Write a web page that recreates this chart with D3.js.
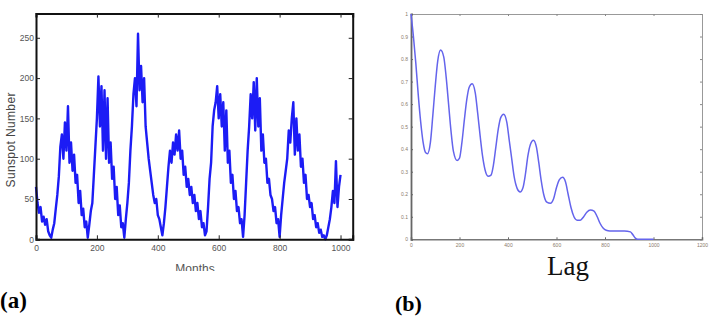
<!DOCTYPE html>
<html>
<head>
<meta charset="utf-8">
<script src="https://cdn.jsdelivr.net/npm/d3@7"></script>
<style>
  body { margin: 0; background: #fff; }
  svg { display: block; }
</style>
</head>
<body>
<div id="chart"></div>
<script>
// (a) monthly sunspot numbers, one value every 5 months (0..1000)
const sunspot = [
  65,45,33,40,22,28,18,25,10,5,2,12,20,38,55,78,115,130,100,145,110,165,95,120,85,105,70,80,45,60,30,38,15,22,2,
  18,35,45,80,115,150,202,140,190,110,185,100,175,95,120,75,90,50,65,30,42,15,20,2,
  25,45,70,110,140,180,200,165,255,185,215,170,200,140,120,100,85,70,55,45,50,30,25,15,5,
  20,40,65,90,110,95,120,105,130,110,135,100,110,80,90,65,75,55,65,45,55,35,45,25,35,15,20,5,10,
  40,75,95,140,160,170,190,150,180,140,170,110,160,95,110,70,80,50,60,35,40,20,25,3,
  30,70,110,140,180,150,195,135,200,140,175,110,130,95,100,70,75,55,50,35,40,20,25,3,
  30,50,70,85,100,135,120,150,170,105,150,110,130,90,100,70,80,50,55,40,45,25,30,15,20,8,12,3,5,0,
  5,15,25,40,60,45,97,40,65,80
];
const months = d3.range(0, 1001, 5);

// (b) autocorrelation vs lag
const lags = [0,10,20,30,40,50,60,68,80,90,100,110,122,135,145,155,165,175,190,200,
  210,220,230,240,252,265,275,285,295,305,318,330,340,350,360,370,382,395,405,415,
  425,438,450,462,472,482,492,505,517,527,537,547,560,575,588,600,612,625,637,648,
  660,672,685,698,712,725,740,755,768,780,792,805,820,850,880,905,915,925,935,1000];
const acf = [1.0,0.9,0.78,0.64,0.52,0.43,0.385,0.38,0.43,0.55,0.68,0.79,0.84,0.81,0.72,0.6,0.48,0.39,0.35,0.36,
  0.43,0.53,0.62,0.675,0.69,0.65,0.56,0.46,0.37,0.31,0.28,0.285,0.33,0.41,0.49,0.54,0.555,0.52,0.44,0.36,
  0.28,0.225,0.21,0.23,0.29,0.37,0.42,0.44,0.41,0.34,0.26,0.2,0.165,0.16,0.18,0.23,0.265,0.275,0.255,0.2,
  0.14,0.1,0.085,0.085,0.1,0.12,0.13,0.125,0.1,0.07,0.05,0.04,0.037,0.037,0.037,0.033,0.02,0.005,0,0];

const ticksA_x = [0,200,400,600,800,1000];
const ticksA_y = [0,50,100,150,200,250];
const ticksB_x = [0,200,400,600,800,1000,1200];
const ticksB_y = [0,0.1,0.2,0.3,0.4,0.5,0.6,0.7,0.8,0.9,1];

const svg = d3.select("#chart").append("svg")
  .attr("width", 717).attr("height", 316);

// ---------- panel (a) ----------
const xa = d3.scaleLinear().domain([0, 1040]).range([36, 352.7]);
const ya = d3.scaleLinear().domain([0, 280]).range([239.3, 13.6]);

const ga = svg.append("g");

ga.append("path")
  .datum(months.map((m, i) => [m, sunspot[i]]))
  .attr("fill", "none")
  .attr("stroke", "#1c1cf5")
  .attr("stroke-width", 2.4)
  .attr("stroke-linejoin", "round")
  .attr("d", d3.line().x(d => xa(d[0])).y(d => ya(d[1])));

const axA = (sel) => sel.selectAll("text")
  .attr("fill", "#555")
  .style("font", "8.5px 'Liberation Sans Narrow', 'Liberation Sans', sans-serif");

ga.append("g").attr("transform", "translate(0,239.3)")
  .call(d3.axisBottom(xa).tickValues(ticksA_x).tickSize(-4).tickPadding(6).tickFormat(d3.format("d")))
  .call(axA);
ga.append("g").attr("transform", "translate(0,13.6)")
  .call(d3.axisTop(xa).tickValues(ticksA_x).tickSize(-4).tickFormat(""));
ga.append("g").attr("transform", "translate(36,0)")
  .call(d3.axisLeft(ya).tickValues(ticksA_y).tickSize(-4).tickPadding(2).tickFormat(d3.format("d")))
  .call(axA);
ga.append("g").attr("transform", "translate(352.7,0)")
  .call(d3.axisRight(ya).tickValues(ticksA_y).tickSize(-4).tickFormat(""));
ga.selectAll(".domain").attr("stroke", "#111").attr("stroke-width", 2);
ga.selectAll(".tick line").attr("stroke", "#222");

ga.append("text")
  .attr("transform", "translate(15,140) rotate(-90)")
  .attr("text-anchor", "middle")
  .attr("fill", "#444")
  .attr("textLength", 95)
  .style("font", "12px 'Liberation Sans Narrow', 'Liberation Sans', sans-serif")
  .text("Sunspot Number");

svg.append("clipPath").attr("id", "cutMonths")
  .append("rect").attr("x", 150).attr("y", 255).attr("width", 100).attr("height", 16);
ga.append("text")
  .attr("x", 195).attr("y", 273)
  .attr("text-anchor", "middle")
  .attr("fill", "#555")
  .attr("clip-path", "url(#cutMonths)")
  .style("font", "12px 'Liberation Sans Narrow', 'Liberation Sans', sans-serif")
  .text("Months");

svg.append("text")
  .attr("x", 0).attr("y", 308)
  .style("font", "bold 23px 'Liberation Serif', serif")
  .text("(a)");

// ---------- panel (b) ----------
const xb = d3.scaleLinear().domain([0, 1200]).range([411, 702]);
const yb = d3.scaleLinear().domain([0, 1]).range([239.3, 14]);

const gb = svg.append("g");

const axB = (sel) => sel.selectAll("text")
  .attr("fill", "#8a7a6a")
  .style("font", "5px 'Liberation Sans', sans-serif");

gb.append("g").attr("transform", "translate(0,14)")
  .call(d3.axisTop(xb).tickValues(ticksB_x).tickSize(-2).tickFormat(""));
gb.append("g").attr("transform", "translate(702,0)")
  .call(d3.axisRight(yb).tickValues(ticksB_y).tickSize(-2).tickFormat(""));
gb.selectAll(".domain").attr("stroke", "#999").attr("stroke-width", 1);
gb.selectAll(".tick line").attr("stroke", "#888");

const bx = gb.append("g").attr("transform", "translate(0,239.3)")
  .call(d3.axisBottom(xb).tickValues(ticksB_x).tickSize(-2).tickPadding(4).tickFormat(d3.format("d")))
  .call(axB);
const by = gb.append("g").attr("transform", "translate(411,0)")
  .call(d3.axisLeft(yb).tickValues(ticksB_y).tickSize(-2).tickPadding(3).tickFormat(d3.format("~g")))
  .call(axB);
bx.select(".domain").attr("stroke", "#777").attr("stroke-width", 1.6);
by.select(".domain").attr("stroke", "#666").attr("stroke-width", 1.8);
bx.selectAll(".tick line").attr("stroke", "#666");
by.selectAll(".tick line").attr("stroke", "#666");

gb.append("path")
  .datum(lags.map((l, i) => [l, acf[i]]))
  .attr("fill", "none")
  .attr("stroke", "#6464ec")
  .attr("stroke-width", 1.5)
  .attr("d", d3.line().curve(d3.curveMonotoneX).x(d => xb(d[0])).y(d => yb(d[1])));

svg.append("text")
  .attr("x", 568).attr("y", 275)
  .attr("text-anchor", "middle")
  .attr("fill", "#111")
  .style("font", "27px 'Liberation Serif', serif")
  .text("Lag");

svg.append("text")
  .attr("x", 395).attr("y", 311)
  .style("font", "bold 22px 'Liberation Serif', serif")
  .text("(b)");
</script>
</body>
</html>
